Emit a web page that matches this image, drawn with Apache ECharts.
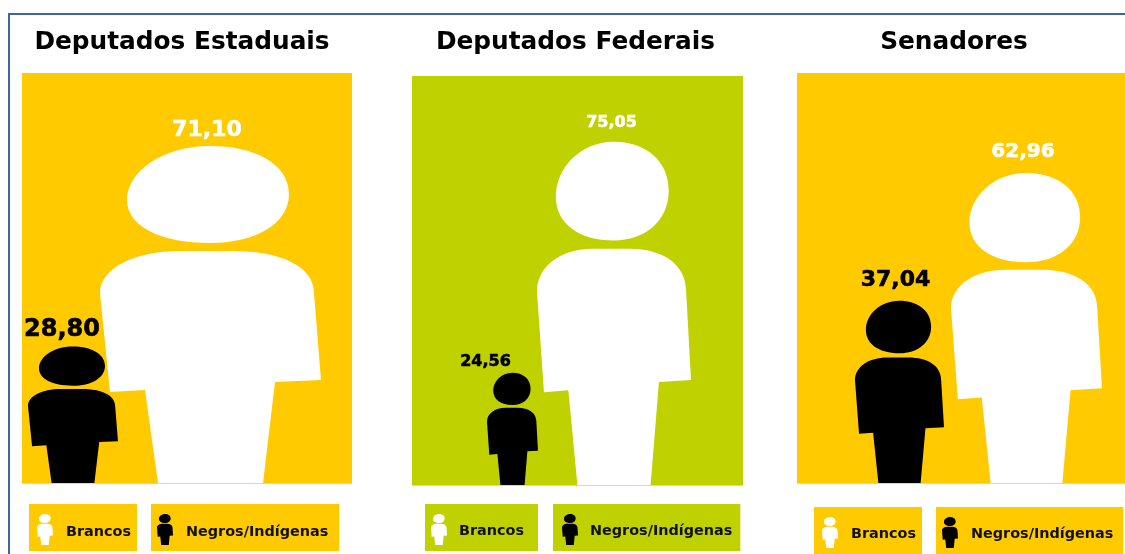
<!DOCTYPE html>
<html>
<head>
<meta charset="utf-8">
<style>
  html, body { margin: 0; padding: 0; background: #fff; }
  #chart { width: 1125px; height: 554px; }
</style>
<script src="https://cdn.jsdelivr.net/npm/echarts@6/dist/echarts.min.js"></script>
</head>
<body>
<div id="chart"></div>
<script>
// dados
const cargos = ['Deputados Estaduais', 'Deputados Federais', 'Senadores'];
const grupos = ['Negros/Indígenas', 'Brancos'];
const negros = [28.80, 24.56, 37.04];
const brancos = [71.10, 75.05, 62.96];

const AMARELO = '#FFCA00';
const VERDE = '#BFD200';
const pessoa = 'path://M110 0C155 0 189 18 189 48C189 78 155 97 110 97C60 97 27 80 27 54C27 26 62 0 110 0Z' +
  'M80 105L133 105C180 105 214 120 214 147L221 234L175 236L163 337L58 337L45 244L10 246L0 147C0 122 35 105 80 105Z';

// layout de cada painel (px)
const paineis = [
  { cor: AMARELO, x: 22, w: 330, top: 73, h: 410, tituloX: 177, gridLeft: 4.25, gridW: 275, max: 86.5,
    larg: [90, 221], fonte: [24, 22], labelDx: [-11, -3.5], labelDist: [5, 5],
    legY: 504, legX: [29, 151], legPad: [[8, 6], [6, 11]], legGap: 8, legDesce: 6 },
  { cor: VERDE, x: 412, w: 331, top: 76, h: 409, tituloX: 570.5, gridLeft: 461.75, gridW: 203, max: 89.4,
    larg: [51, 154], fonte: [16, 16], labelDx: [-27, -2.5], labelDist: [3, 11],
    legY: 504, legX: [425, 553], legPad: [[6, 14], [9, 8]], legGap: 7, legDesce: 3 },
  { cor: AMARELO, x: 797, w: 328, top: 73, h: 410, tituloX: 949, gridLeft: 836, gridW: 254, max: 83.3,
    larg: [89, 151], fonte: [22, 20], labelDx: [-4, -3.5], labelDist: [9, 11],
    legY: 507, legX: [814, 936], legPad: [[8, 6], [6, 10]], legGap: 8, legDesce: 3 }
];

const fmt = (v) => v.toFixed(2).replace('.', ',');

const chart = echarts.init(document.getElementById('chart'));
const option = {
  animation: false,
  backgroundColor: '#fff',
  title: [],
  grid: [],
  xAxis: [],
  yAxis: [],
  series: [],
  legend: [],
  graphic: [
    { type: 'line', shape: { x1: 8, y1: 14, x2: 1125, y2: 14 }, style: { stroke: '#41669F', lineWidth: 2 } },
    { type: 'line', shape: { x1: 9, y1: 13, x2: 9, y2: 554 }, style: { stroke: '#41669F', lineWidth: 2 } }
  ]
};

paineis.forEach((p, i) => {
  option.graphic.push({ type: 'rect', shape: { x: p.x, y: p.top, width: p.w, height: p.h }, style: { fill: p.cor } });
  option.graphic.push({ type: 'line', shape: { x1: p.x, y1: p.top + p.h + 0.5, x2: p.x + p.w, y2: p.top + p.h + 0.5 }, style: { stroke: '#d4d4d4', lineWidth: 1 } });

  option.title.push({
    text: cargos[i], left: p.tituloX, top: 25, textAlign: 'center',
    textStyle: { fontFamily: 'DejaVu Sans', fontWeight: 'bold', fontSize: 24.8, color: '#000' }
  });
  option.grid.push({ left: p.gridLeft, width: p.gridW, top: p.top, height: p.h });
  option.xAxis.push({ type: 'category', gridIndex: i, data: grupos, show: false });
  option.yAxis.push({ type: 'value', gridIndex: i, min: 0, max: p.max, show: false });

  // branco primeiro: o preto fica por cima
  [1, 0].forEach((g) => {
    const valor = g === 1 ? brancos[i] : negros[i];
    const cor = g === 1 ? '#fff' : '#000';
    const dados = [null, null];
    dados[g] = {
      value: valor,
      symbolSize: [p.larg[g], '100%'],
      label: {
        show: true, position: 'top', distance: p.labelDist[g], offset: [p.labelDx[g], 0],
        formatter: (d) => fmt(d.value), color: cor,
        fontFamily: 'DejaVu Sans', fontWeight: 'bold', fontSize: p.fonte[g],
        textBorderColor: cor, textBorderWidth: 0.6
      }
    };
    option.series.push({
      type: 'pictorialBar', name: grupos[g], xAxisIndex: i, yAxisIndex: i,
      symbol: pessoa, symbolPosition: 'start', symbolKeepAspect: false, barGap: '-100%',
      itemStyle: { color: cor }, silent: true, z: 3 + (1 - g), data: dados
    });
    const pad = p.legPad[1 - g];
    option.legend.push({
      data: [grupos[g]], selectedMode: false, orient: 'horizontal',
      left: p.legX[1 - g], top: p.legY, icon: pessoa, symbolKeepAspect: false,
      itemWidth: 16, itemHeight: 31,
      padding: [10, pad[1], 6, pad[0]],
      backgroundColor: p.cor,
      formatter: '{t|{name}}',
      textStyle: {
        rich: {
          t: { color: '#111', fontFamily: 'DejaVu Sans', fontWeight: 'bold', fontSize: 14.4, padding: [p.legDesce, 0, 0, p.legGap] }
        }
      }
    });
  });
});

chart.setOption(option);
</script>
</body>
</html>
